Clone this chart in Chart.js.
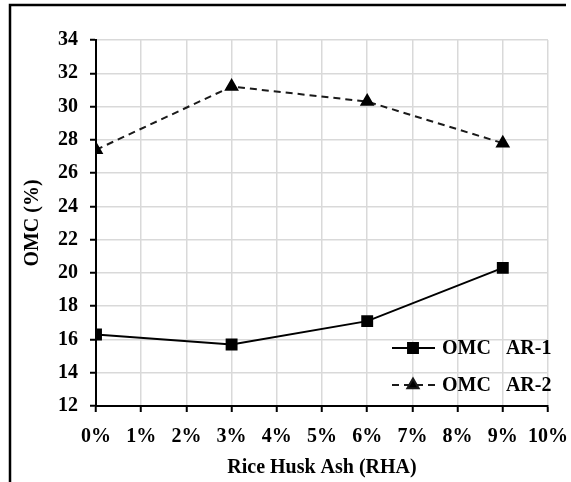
<!DOCTYPE html>
<html>
<head>
<meta charset="utf-8">
<script src="https://cdn.jsdelivr.net/npm/chart.js@4/dist/chart.umd.min.js"></script>
<style>
  html, body { margin: 0; padding: 0; background: #fff; }
  #wrap { width: 571px; height: 482px; position: relative; }
</style>
</head>
<body>
<div id="wrap"><canvas id="chart" width="571" height="482"></canvas></div>
<script>
// RHA content (%) and optimum moisture content (%)
const rhaPct = [0, 3, 6, 9];
const omcAR1 = [16.3, 15.7, 17.1, 20.3];
const omcAR2 = [27.4, 31.2, 30.3, 27.8];
const seriesNames = ['OMC   AR-1', 'OMC   AR-2'];

const FONT = { family: '"Liberation Serif", "Times New Roman", serif', size: 20, weight: 'bold' };

function toPoints(vals) {
    return rhaPct.map((x, i) => ({ x: x, y: vals[i] }));
}

// outer frame (left + top only, like the cropped figure)
const framePlugin = {
    id: 'frame',
    beforeDraw(chart) {
        const c = chart.ctx;
        c.save();
        c.fillStyle = '#fff';
        c.fillRect(0, 0, chart.width, chart.height);
        c.strokeStyle = '#000';
        c.lineWidth = 2.5;
        c.beginPath();
        c.moveTo(10, chart.height);
        c.lineTo(10, 5);
        c.lineTo(566, 5);
        c.stroke();
        c.restore();
    }
};

// legend drawn inside the plot, bottom right
const innerLegend = {
    id: 'innerLegend',
    afterDatasetsDraw(chart) {
        const c = chart.ctx;
        const area = chart.chartArea;
        chart.data.datasets.forEach((ds, i) => {
            const y = area.bottom - 58 + i * 37;
            const x0 = area.right - 156;
            c.save();
            c.strokeStyle = ds.borderColor;
            c.lineWidth = ds.borderWidth;
            c.setLineDash(ds.borderDash || []);
            c.beginPath();
            c.moveTo(x0, y);
            c.lineTo(x0 + 43, y);
            c.stroke();
            c.setLineDash([]);
            c.fillStyle = ds.pointBackgroundColor;
            Chart.helpers.drawPoint(c, {
                pointStyle: ds.pointStyle,
                radius: ds.pointRadius,
                rotation: 0,
                borderWidth: 1
            }, x0 + 21, y);
            c.fillStyle = '#000';
            c.font = 'bold 20px "Liberation Serif", serif';
            c.textBaseline = 'middle';
            c.fillText(ds.label, x0 + 50, y + 1);
            c.restore();
        });
    }
};

new Chart(document.getElementById('chart').getContext('2d'), {
    type: 'line',
    data: {
        datasets: [{
            label: seriesNames[0],
            data: toPoints(omcAR1),
            borderColor: '#000',
            borderWidth: 2,
            pointStyle: 'rect',
            pointRadius: 7,
            pointBackgroundColor: '#000',
            pointBorderColor: '#000',
            tension: 0
        }, {
            label: seriesNames[1],
            data: toPoints(omcAR2),
            borderColor: '#1a1a1a',
            borderWidth: 2,
            borderDash: [7, 5],
            pointStyle: 'triangle',
            pointRadius: 6.5,
            pointBackgroundColor: '#000',
            pointBorderColor: '#000',
            tension: 0
        }]
    },
    options: {
        responsive: false,
        animation: false,
        layout: { padding: { top: 40, right: 23, left: 0, bottom: 0 } },
        plugins: {
            legend: { display: false },
            tooltip: { enabled: false }
        },
        scales: {
            x: {
                type: 'linear',
                min: 0,
                max: 10,
                ticks: {
                    stepSize: 1,
                    padding: 13,
                    color: '#000',
                    font: FONT,
                    maxRotation: 0,
                    callback: v => v + '%'
                },
                grid: { color: '#d9d9d9', lineWidth: 1.5, tickColor: '#000', tickWidth: 2, tickLength: 6 },
                border: { color: '#000', width: 2 },
                title: {
                    display: true,
                    text: 'Rice Husk Ash (RHA)',
                    color: '#000',
                    font: FONT,
                    padding: { top: 0, bottom: 2 }
                },
                afterFit(scale) {
                    scale.height = 76;
                    scale.paddingLeft = 0;
                    scale.paddingRight = 0;
                }
            },
            y: {
                min: 12,
                max: 34,
                ticks: {
                    stepSize: 2,
                    padding: 12,
                    color: '#000',
                    font: FONT
                },
                grid: { color: '#d9d9d9', lineWidth: 1.5, tickColor: '#000', tickWidth: 2, tickLength: 6 },
                border: { color: '#000', width: 2 },
                title: {
                    display: true,
                    text: 'OMC (%)',
                    color: '#000',
                    font: FONT,
                    padding: { top: 21, bottom: 0 }
                },
                afterFit(scale) {
                    scale.width = 96;
                    scale.paddingTop = 0;
                    scale.paddingBottom = 0;
                }
            }
        }
    },
    plugins: [framePlugin, innerLegend]
});
</script>
</body>
</html>
